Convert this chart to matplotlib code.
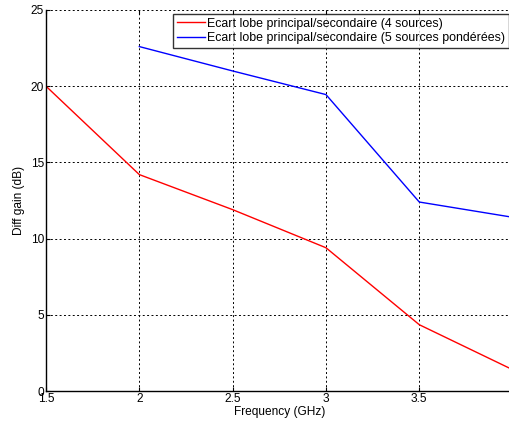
import matplotlib
matplotlib.use("Agg")
import matplotlib.pyplot as plt

freq_red = [1.5, 2.0, 2.5, 3.0, 3.5, 4.0]
gain_red = [20.0, 14.2, 11.9, 9.4, 4.35, 1.4]
freq_blue = [2.0, 2.5, 3.0, 3.5, 4.0]
gain_blue = [22.6, 21.0, 19.45, 12.4, 11.4]
label_red = "Ecart lobe principal/secondaire (4 sources)"
label_blue = "Ecart lobe principal/secondaire (5 sources pondérées)"
xticks = [1.5, 2, 2.5, 3, 3.5, 4]
yticks = [0, 5, 10, 15, 20, 25]

plt.rcParams['font.family'] = ['Liberation Sans', 'DejaVu Sans']

fig = plt.figure(figsize=(5.1, 4.25), dpi=100)
W, H = 510, 425
x0, x1 = 46, 512.6
y0, y1 = 391, 10
ax = fig.add_axes([x0 / W, (H - y0) / H, (x1 - x0) / W, (y0 - y1) / H])

ax.plot(freq_red, gain_red, color='red', lw=1.0, label=label_red)
ax.plot(freq_blue, gain_blue, color='blue', lw=1.0, label=label_blue)

ax.set_xlim(1.5, 4)
ax.set_ylim(0, 25)
ax.set_xticks(xticks)
ax.set_xticklabels([str(t) for t in xticks])
ax.set_yticks(yticks)
ax.grid(True, color='black', linestyle=(0, (2, 2.5)), linewidth=0.7)
ax.tick_params(direction='in', top=True, right=True, labelsize=8.6, length=3, pad=1.5)
for s in ['top', 'right']:
    ax.spines[s].set_visible(False)
for s in ['left', 'bottom']:
    ax.spines[s].set_linewidth(1.0)

ax.set_xlabel("Frequency (GHz)", fontsize=8.6, labelpad=1)
ax.set_ylabel("Diff gain (dB)", fontsize=8.6, labelpad=4)

leg = ax.legend(loc='upper left',
                bbox_to_anchor=((173 - x0) / (x1 - x0), (y0 - 14) / (y0 - y1)),
                fontsize=8.9, frameon=True, fancybox=False, edgecolor='black',
                borderpad=0.3, handlelength=2.25, handletextpad=0.2, labelspacing=0.2,
                borderaxespad=0)
leg.get_frame().set_linewidth(1.0)

fig.savefig("out.png", dpi=100)
